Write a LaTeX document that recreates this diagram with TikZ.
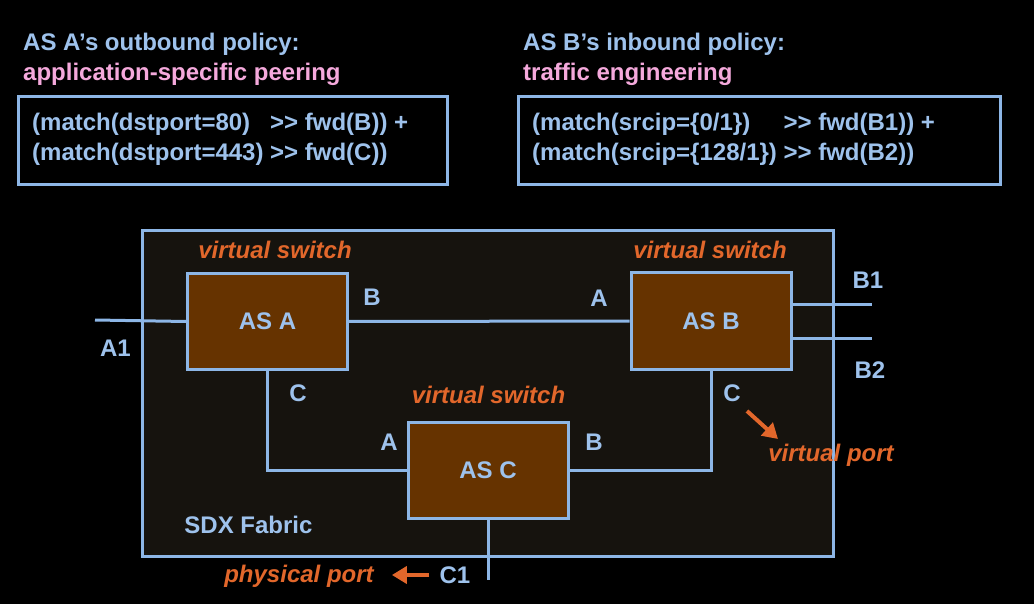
\documentclass[tikz,border=0pt]{standalone}
\usepackage{fontspec}
\setmainfont{Liberation Sans}
\usetikzlibrary{arrows.meta}
\definecolor{lblue}{HTML}{8DB6E6}
\definecolor{tblue}{HTML}{9EC2EC}
\definecolor{pinkt}{HTML}{F5A9DC}
\definecolor{oranget}{HTML}{E2672B}
\definecolor{brownf}{HTML}{663300}
\definecolor{fabricf}{HTML}{16130E}
\newcommand{\gtgt}{\textgreater\kern0pt\textgreater}
\begin{document}
\begin{tikzpicture}[x=1pt,y=-1pt,
  basefont/.style={font=\fontsize{24}{30}\selectfont\bfseries, inner sep=0pt},
  lbl/.style={basefont, text=tblue},
  pinklbl/.style={basefont, text=pinkt},
  vs/.style={basefont, text=oranget, font=\fontsize{24}{30}\selectfont\bfseries\itshape},
  asbox/.style={draw=lblue, line width=3pt, fill=brownf, minimum width=160pt, minimum height=96pt, basefont, text=tblue},
  link/.style={draw=lblue, line width=3pt},
  polbox/.style={draw=lblue, line width=3pt, fill=black, minimum height=88pt, inner sep=0pt},
  oarrow/.style={draw=oranget, line width=4pt, -{Triangle[length=15pt,width=17pt]}}
]
\fill[black] (0,0) rectangle (1034,604);
\useasboundingbox (0,0) rectangle (1034,604);

% policy titles
\node[lbl, anchor=base west] (tA) at (23,51) {AS A’s outbound policy:};
\node[pinklbl, anchor=base west] (sA) at (23,81) {application-specific peering};
\node[lbl, anchor=base west] (tB) at (523,51) {AS B’s inbound policy:};
\node[pinklbl, anchor=base west] (sB) at (523,81) {traffic engineering};

% policy boxes
\node[polbox, minimum width=429pt] (pA) at (232.5,141) {};
\node[polbox, minimum width=482pt] (pB) at (759,141) {};
\node[lbl, anchor=west] (codeA) at (32,140) {\begin{tabular}{@{}l@{\ }l@{}}(match(dstport=80) & \gtgt{} fwd(B)) +\\(match(dstport=443) & \gtgt{} fwd(C))\end{tabular}};
\node[lbl, anchor=west] (codeB) at (532,140) {\begin{tabular}{@{}l@{\ }l@{}}(match(srcip=\{0/1\}) & \gtgt{} fwd(B1)) +\\(match(srcip=\{128/1\}) & \gtgt{} fwd(B2))\end{tabular}};

% fabric
\node[draw=lblue, line width=3pt, fill=fabricf, minimum width=691pt, minimum height=325pt, inner sep=0pt] (fabric) at (487.5,393.5) {};

% switches
\node[asbox] (asa) at (267.5,321.5) {AS A};
\node[asbox] (asb) at (711,321) {AS B};
\node[asbox] (asc) at (488,470) {AS C};

% connectors
\coordinate (a1end) at (95,320);
\coordinate (b1end) at (872,304);
\coordinate (b2end) at (872,338);
\coordinate (c1end) at (488,580);
\draw[link] (a1end) -- (asa.west);
\draw[link] (asa.east) -- (asb.west);
\draw[link] (asa.south) |- (asc.west);
\draw[link] (asc.east) -| (asb.south);
\draw[link] (asc.south) -- (c1end);
\draw[link] (asb.east |- b1end) -- (b1end);
\draw[link] (asb.east |- b2end) -- (b2end);

% labels
\node[vs, anchor=base] (vsA) at (275,259) {virtual switch};
\node[vs, anchor=base] (vsB) at (710,259) {virtual switch};
\node[vs, anchor=base] (vsC) at (488.5,403) {virtual switch};
\node[lbl] (lAB) at (372,297) {B};
\node[lbl] (lA1) at (115.5,348) {A1};
\node[lbl] (lAC) at (298,393) {C};
\node[lbl] (lCA) at (389,442) {A};
\node[lbl] (lCB) at (594,442) {B};
\node[lbl] (lBA) at (599,298) {A};
\node[lbl] (lB1) at (868,280) {B1};
\node[lbl] (lB2) at (870,370) {B2};
\node[lbl] (lBC) at (732,393) {C};
\node[lbl, anchor=base] (sdx) at (248.5,533) {SDX Fabric};
\node[lbl] (lC1) at (455,575) {C1};
\node[vs, anchor=base] (pp) at (299,582) {physical port};
\node[vs, anchor=base] (vp) at (831,461) {virtual port};

% orange arrows
\draw[oarrow, shorten <=10pt, shorten >=18pt] (lC1.west) -- (pp.east |- lC1.west);
\coordinate (vpa) at (747,411);
\coordinate (vpb) at (778,439);
\draw[oarrow] (vpa) -- (vpb);
\end{tikzpicture}
\end{document}
